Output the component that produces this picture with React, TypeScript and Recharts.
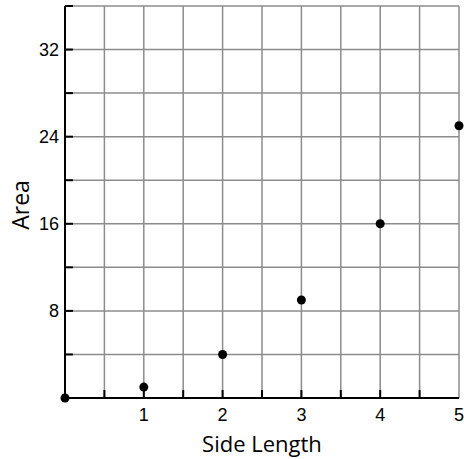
import React from "react"
import { ScatterChart, Scatter, XAxis, YAxis, CartesianGrid } from "recharts"

const sideLengths = [0, 1, 2, 3, 4, 5]
const areas = [0, 1, 4, 9, 16, 25]

const xTicks = [0, 0.5, 1, 1.5, 2, 2.5, 3, 3.5, 4, 4.5, 5]
const yTicks = [0, 4, 8, 12, 16, 20, 24, 28, 32, 36]
const xLabeled = [1, 2, 3, 4, 5]
const yLabeled = [8, 16, 24, 32]

const data = sideLengths.map((x, i) => ({ x, y: areas[i] }))

const tickFont = "'Liberation Sans', Arial, sans-serif"
const titleFont = "'Open Sans', Calibri, sans-serif"

const renderXTick = (props: any) => {
  const { x, y, payload } = props
  const v = payload.value
  return (
    <g key={`xt-${v}`}>
      {v > 0 && v < 5 && <line x1={x} y1={y} x2={x} y2={y - 8} stroke="#000" strokeWidth={2} />}
      {xLabeled.includes(v) && (
        <text x={x} y={y + 23} textAnchor="middle" fontSize={18} fontFamily={tickFont} fill="#000">
          {v}
        </text>
      )}
    </g>
  )
}

const renderYTick = (props: any) => {
  const { x, y, payload } = props
  const v = payload.value
  return (
    <g key={`yt-${v}`}>
      {v > 0 && <line x1={x} y1={y} x2={x + 8} y2={y} stroke="#000" strokeWidth={2} />}
      {yLabeled.includes(v) && (
        <text x={x - 6} y={y + 6.5} textAnchor="end" fontSize={18} fontFamily={tickFont} fill="#000">
          {v}
        </text>
      )}
    </g>
  )
}

// y-axis title, centred on the plot height
const renderYTitle = (props: any) => {
  const vb = props.viewBox
  const cx = vb.x + 20
  const cy = vb.y + vb.height / 2 + 3
  return (
    <text
      x={cx}
      y={cy}
      transform={`rotate(-90, ${cx}, ${cy})`}
      textAnchor="middle"
      dominantBaseline="central"
      fontSize={23}
      fontFamily={titleFont}
      fill="#000"
    >
      Area
    </text>
  )
}

const Dot = (props: any) => <circle cx={props.cx} cy={props.cy} r={4.5} fill="#000" />

export default function App() {
  return (
    <div style={{ position: "absolute", left: 0, top: 0, background: "#fff" }}>
      <ScatterChart width={464} height={459} margin={{ top: 6, right: 5, left: 0, bottom: 0 }}>
        <CartesianGrid stroke="#8c8c8c" strokeWidth={1.5} />
        <XAxis
          type="number"
          dataKey="x"
          domain={[0, 5]}
          ticks={xTicks}
          interval={0}
          tickSize={0.01}
          tickMargin={0.01}
          tickLine={false}
          tick={renderXTick}
          axisLine={{ stroke: "#000", strokeWidth: 2 }}
          height={61}
          label={{ value: "Side Length", position: "insideBottom", offset: 7, fontSize: 22, fontFamily: titleFont, fill: "#000" }}
        />
        <YAxis
          type="number"
          dataKey="y"
          domain={[0, 36]}
          ticks={yTicks}
          interval={0}
          tickSize={0.01}
          tickMargin={0.01}
          tickLine={false}
          tick={renderYTick}
          axisLine={{ stroke: "#000", strokeWidth: 2 }}
          width={65}
          label={renderYTitle}
        />
        <Scatter data={data} fill="#000" shape={<Dot />} isAnimationActive={false} />
      </ScatterChart>
    </div>
  )
}
